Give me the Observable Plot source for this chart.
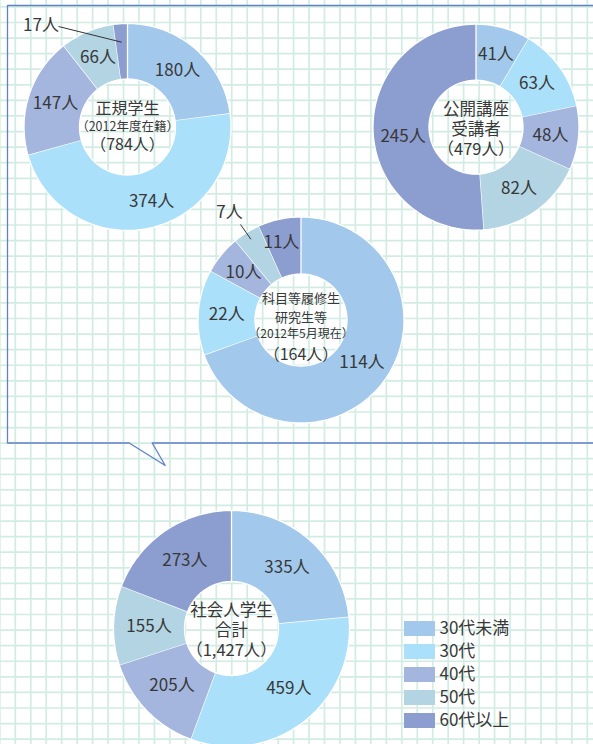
<!DOCTYPE html>
<html><head><meta charset="utf-8">
<script src="https://cdn.jsdelivr.net/npm/d3@7"></script>
<script src="https://cdn.jsdelivr.net/npm/@observablehq/plot@0.6"></script>
<style>html,body{margin:0;padding:0;background:#fff;} #chart svg{display:block}</style>
</head><body><div id="chart"></div>
<script>
// ---- data ----
const ageGroups = ["30代未満", "30代", "40代", "50代", "60代以上"];
const regularStudents = [180, 374, 147, 66, 17];   // 正規学生 (784人)
const openCourse = [41, 63, 48, 82, 245];           // 公開講座受講者 (479人)
const creditStudents = [114, 22, 10, 7, 11];        // 科目等履修生・研究生等 (164人)
const adultTotal = [335, 459, 205, 155, 273];       // 社会人学生合計 (1,427人)
const regularTitle = ["正規学生", "（2012年度在籍）", "（784人）"];
const openTitle = ["公開講座", "受講者", "（479人）"];
const creditTitle = ["科目等履修生", "研究生等", "（2012年5月現在）", "（164人）"];
const totalTitle = ["社会人学生", "合計", "（1,427人）"];
const unit = "人";

// ---- style / layout ----
const palette = ["#a2c9ec", "#aae0f9", "#a4b5de", "#b2d4e3", "#8c9dcf"];
const textColor = "#383838";
const font = "'Noto Sans CJK JP', 'Noto Sans', sans-serif";
const W = 593, H = 744;

const donuts = [
  {values: regularStudents, title: regularTitle, cx: 127, cy: 126.5, r: 103.5, ir: 48,
   titleY: [108, 126, 144], titleSize: [16, 12.5, 16],
   callout: {index: 4, r0: 85, lx: 58, ly: 26, tx: 40.5, ty: 25},
   nudge: {1: [9, 0]}},
  {values: openCourse, title: openTitle, cx: 475.5, cy: 126.7, r: 103, ir: 47,
   block: {y: 128.2}, nudge: {4: [2, 7]}},
  {values: creditStudents, title: creditTitle, cx: 300.5, cy: 319.5, r: 103, ir: 46,
   titleY: [298.5, 317, 334, 354], titleSize: [13, 13, 12, 16],
   callout: {index: 3, r0: 95, lx: 240, ly: 224, tx: 229, ty: 212},
   nudge: {4: [-4, -5]}},
  {values: adultTotal, title: totalTitle, cx: 231, cy: 628, r: 118, ir: 47,
   block: {y: 629}, nudge: {1: [7, -5]}}
];

const pt = (cx, cy, r, a) => [cx + r * Math.sin(a), cy - r * Math.cos(a)];

const slicePts = [], labels = [], links = [], titles = [], titleBlocks = [];
donuts.forEach((d, di) => {
  const total = d3.sum(d.values);
  let acc = 0;
  d.values.forEach((v, i) => {
    const a0 = acc / total * 2 * Math.PI, a1 = (acc + v) / total * 2 * Math.PI;
    acc += v;
    const id = di + "-" + i, group = ageGroups[i];
    const n = Math.max(2, Math.ceil((a1 - a0) / 0.02));
    for (let k = 0; k <= n; k++) { const [x, y] = pt(d.cx, d.cy, d.r, a0 + (a1 - a0) * k / n); slicePts.push({id, group, x, y}); }
    for (let k = n; k >= 0; k--) { const [x, y] = pt(d.cx, d.cy, d.ir, a0 + (a1 - a0) * k / n); slicePts.push({id, group, x, y}); }
    const am = (a0 + a1) / 2;
    if (d.callout && d.callout.index === i) {
      const [x1, y1] = pt(d.cx, d.cy, d.callout.r0, am);
      links.push({x1, y1, x2: d.callout.lx, y2: d.callout.ly});
      labels.push({x: d.callout.tx, y: d.callout.ty, text: v + unit});
    } else {
      const [x, y] = pt(d.cx, d.cy, (d.r + d.ir) / 2, am);
      const nd = (d.nudge && d.nudge[i]) || [0, 0];
      labels.push({x: x + nd[0], y: y + nd[1], text: v + unit});
    }
  });
  if (d.block) titleBlocks.push({x: d.cx, y: d.block.y, text: d.title.join("\n")});
  else d.title.forEach((t, k) => titles.push({x: d.cx, y: d.titleY[k], text: t, size: d.titleSize[k]}));
});

// legend rows
const legend = ageGroups.map((g, i) => ({group: g, y: 628.5 + i * 23}));

// background grid + speech bubble frame
const gridX = d3.range(-0.66, W + 1, 15.46);
const gridY = d3.range(6.4, H + 1, 15.58);
const bubble = [[600, 5], [7, 5], [7, 442.5], [128.7, 442.5], [164.7, 465], [151.7, 442.5], [600, 442.5]]
  .map(([x, y]) => ({x, y}));

const chart = Plot.plot({
  width: W, height: H, margin: 0,
  x: {domain: [0, W], range: [0, W], axis: null},
  y: {domain: [0, H], range: [0, H], axis: null},
  color: {domain: ageGroups, range: palette},
  style: {background: "#fff", fontFamily: font, overflow: "hidden"},
  marks: [
    Plot.ruleX(gridX, {x: d => d, y1: 0, y2: H, stroke: "#d2ece3", strokeWidth: 1.7}),
    Plot.ruleY(gridY, {y: d => d, x1: 0, x2: W, stroke: "#d2ece3", strokeWidth: 1.7}),
    Plot.line(bubble, {x: "x", y: "y", stroke: "#5f80cc", strokeWidth: 1.3}),
    Plot.line(slicePts, {x: "x", y: "y", z: "id", fill: "group", stroke: "#fff", strokeWidth: 1.3, strokeLinejoin: "round"}),
    Plot.link(links, {x1: "x1", y1: "y1", x2: "x2", y2: "y2", stroke: "#333", strokeWidth: 1}),
    Plot.text(labels, {x: "x", y: "y", text: "text", fontSize: 17, fill: textColor}),
    Plot.text(titles, {x: "x", y: "y", text: "text", fontSize: "size", fill: textColor}),
    Plot.text(titleBlocks, {x: "x", y: "y", text: "text", fontSize: 16.5, lineHeight: 1.22, fill: textColor}),
    Plot.rect(legend, {x1: 404, x2: 435, y1: d => d.y - 7.5, y2: d => d.y + 7.5, fill: "group"}),
    Plot.text(legend, {x: 439, y: "y", text: "group", textAnchor: "start", fontSize: 17, fill: textColor})
  ]
});
document.getElementById("chart").appendChild(chart);
</script></body></html>
